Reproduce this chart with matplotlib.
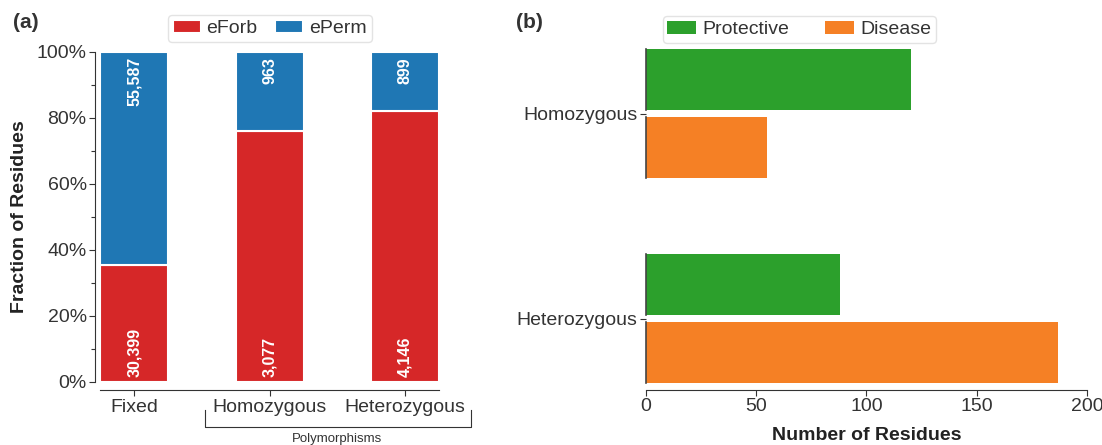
import matplotlib
matplotlib.use("Agg")
import matplotlib.pyplot as plt
import numpy as np

plt.rcParams['font.family'] = ['Liberation Sans', 'DejaVu Sans']

# panel (a) data
groups = ["Fixed", "Homozygous", "Heterozygous"]
eforb = [30399, 3077, 4146]
eperm = [55587, 963, 899]

# panel (b) data
zyg = ["Homozygous", "Heterozygous"]
protective = [120, 88]
disease = [55, 187]

RED = "#d62728"
BLUE = "#1f77b4"
GREEN = "#2ca02c"
ORANGE = "#f58025"
TXT = "#333333"

fig = plt.figure(figsize=(11.02, 4.45), dpi=100)

# ---- panel (a)
ax = fig.add_axes([0.0862, 0.1416, 0.317, 0.7416])
x = np.arange(len(groups))
tot = np.array(eforb) + np.array(eperm)
f_forb = np.array(eforb) / tot
f_perm = np.array(eperm) / tot
ax.bar(x, f_forb, width=0.5, color=RED, edgecolor="white", linewidth=1.5, label="eForb")
ax.bar(x, f_perm, width=0.5, bottom=f_forb, color=BLUE, edgecolor="white", linewidth=1.5, label="ePerm")
for i in range(len(groups)):
    ax.text(x[i], 0.015, f"{eforb[i]:,}", rotation=90, ha="center", va="bottom",
            color="white", fontsize=11.5, fontweight="bold")
    ax.text(x[i], 0.985, f"{eperm[i]:,}", rotation=90, ha="center", va="top",
            color="white", fontsize=11.5, fontweight="bold")
ax.set_xlim(-0.29, 2.29)
ax.set_ylim(0, 1)
ax.set_yticks(np.arange(0, 1.01, 0.2))
ax.set_yticks(np.arange(0.1, 1.0, 0.2), minor=True)
ax.set_yticklabels([f"{int(round(v*100))}%" for v in np.arange(0, 1.01, 0.2)])
ax.set_xticks(x)
ax.set_xticklabels(groups)
ax.tick_params(labelsize=14, colors=TXT, length=4, width=0.8, pad=2)
ax.tick_params(which="minor", length=3, width=0.8, color=TXT)
for s in ["top", "right"]:
    ax.spines[s].set_visible(False)
for s in ["left", "bottom"]:
    ax.spines[s].set_color(TXT)
    ax.spines[s].set_linewidth(0.8)
ax.spines["bottom"].set_position(("outward", 6))
ax.spines["bottom"].set_bounds(-0.25, 2.25)
ax.set_ylabel("Fraction of Residues", fontsize=14, fontweight="bold", color="#222222", labelpad=6)
ax.legend(loc="lower center", bbox_to_anchor=(0.5, 1.0), ncol=2, fontsize=14,
          frameon=True, handlelength=1.45, handleheight=0.65, columnspacing=0.9,
          handletextpad=0.3, borderpad=0.25, edgecolor="#dddddd", labelcolor=TXT)
# polymorphisms bracket
ax.plot([0.52, 0.52, 2.49, 2.49], [-0.085, -0.135, -0.135, -0.085],
        transform=ax.get_xaxis_transform(), clip_on=False, color=TXT, lw=0.8)
ax.text(1.5, -0.155, "Polymorphisms", transform=ax.get_xaxis_transform(),
        ha="center", va="top", fontsize=9.5, color=TXT)
fig.text(0.012, 0.95, "(a)", fontsize=15, fontweight="bold", color=TXT, va="center")

# ---- panel (b)
bx = fig.add_axes([0.586, 0.139, 0.4004, 0.751])
y = np.arange(len(zyg))
h = 0.3
p1 = bx.barh(y - 0.165, protective, height=h, color=GREEN, label="Protective")
p2 = bx.barh(y + 0.165, disease, height=h, color=ORANGE, label="Disease")
# dark edge at zero along each bar
for p in list(p1) + list(p2):
    bx.plot([0, 0], [p.get_y(), p.get_y() + p.get_height()], color="#444444", lw=1.2,
            clip_on=False, zorder=5)
bx.set_ylim(1.315, -0.315)
bx.set_xlim(0, 200)
bx.set_xticks([0, 50, 100, 150, 200])
bx.set_yticks(y)
bx.set_yticklabels(zyg)
bx.tick_params(labelsize=14, colors=TXT, length=4, width=0.8, pad=2)
for s in ["top", "right", "left"]:
    bx.spines[s].set_visible(False)
bx.spines["bottom"].set_color(TXT)
bx.spines["bottom"].set_linewidth(0.8)
bx.spines["bottom"].set_position(("outward", 5))
bx.set_xlabel("Number of Residues", fontsize=14, fontweight="bold", color="#222222", labelpad=8)
bx.legend(loc="lower left", bbox_to_anchor=(0.025, 1.0), ncol=2, fontsize=14,
          frameon=True, handlelength=1.45, handleheight=0.65, columnspacing=1.85,
          handletextpad=0.35, borderpad=0.25, borderaxespad=0.3,
          edgecolor="#dddddd", labelcolor=TXT)
fig.text(0.468, 0.95, "(b)", fontsize=15, fontweight="bold", color=TXT, va="center")

fig.savefig("out.png", dpi=100)
